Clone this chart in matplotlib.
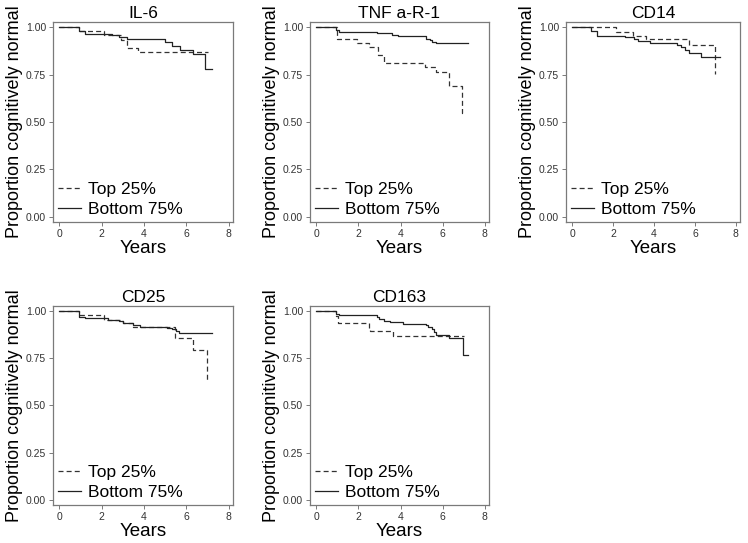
import matplotlib.pyplot as plt

plt.rcParams['font.family'] = ['Liberation Sans', 'DejaVu Sans']

titles = ["IL-6", "TNF a-R-1", "CD14", "CD25", "CD163"]

# step curves: (times, proportions) for Top 25% (dashed) and Bottom 75% (solid)
il6_top_t = [0, 0.95, 2.1, 2.9, 3.2, 3.7, 7.0]
il6_top_s = [1.0, 0.977, 0.956, 0.93, 0.889, 0.868, 0.868]
il6_bot_t = [0, 0.95, 1.2, 2.5, 2.8, 3.2, 3.6, 4.9, 5.0, 5.3, 5.7, 6.3, 6.9, 7.2]
il6_bot_s = [1.0, 0.98, 0.965, 0.96, 0.95, 0.94, 0.937, 0.937, 0.92, 0.903, 0.88, 0.857, 0.778, 0.778]

tnf_top_t = [0, 0.97, 1.95, 2.48, 2.92, 3.2, 5.18, 5.69, 6.32, 6.91, 7.02]
tnf_top_s = [1.0, 0.937, 0.915, 0.893, 0.854, 0.813, 0.789, 0.766, 0.69, 0.549, 0.549]
tnf_bot_t = [0, 0.95, 1.1, 2.9, 3.6, 3.9, 5.2, 5.4, 5.5, 5.7, 7.2]
tnf_bot_s = [1.0, 0.985, 0.975, 0.97, 0.961, 0.953, 0.94, 0.93, 0.922, 0.915, 0.915]

cd14_top_t = [0, 2.12, 2.98, 3.6, 5.71, 6.96, 7.0]
cd14_top_s = [1.0, 0.975, 0.955, 0.935, 0.905, 0.754, 0.754]
cd14_bot_t = [0, 0.94, 1.2, 2.6, 3.0, 3.2, 3.8, 5.1, 5.3, 5.5, 5.7, 6.3, 7.2]
cd14_bot_s = [1.0, 0.98, 0.955, 0.947, 0.935, 0.926, 0.915, 0.905, 0.895, 0.88, 0.866, 0.842, 0.842]

cd25_top_t = [0, 0.95, 2.13, 2.9, 3.0, 3.5, 5.46, 6.33, 6.96, 7.05]
cd25_top_s = [1.0, 0.977, 0.955, 0.945, 0.935, 0.917, 0.857, 0.795, 0.636, 0.636]
cd25_bot_t = [0, 0.95, 1.2, 2.3, 2.8, 3.0, 3.5, 3.8, 5.1, 5.3, 5.5, 5.65, 7.2]
cd25_bot_s = [1.0, 0.97, 0.963, 0.955, 0.945, 0.935, 0.925, 0.918, 0.912, 0.905, 0.895, 0.883, 0.883]

cd163_top_t = [0, 0.94, 1.05, 2.48, 2.55, 3.62, 7.0]
cd163_top_s = [1.0, 0.975, 0.936, 0.905, 0.892, 0.869, 0.869]
cd163_bot_t = [0, 0.95, 1.1, 2.9, 3.0, 3.2, 3.5, 4.1, 5.2, 5.3, 5.5, 5.6, 5.7, 6.3, 6.95, 7.2]
cd163_bot_s = [1.0, 0.985, 0.977, 0.97, 0.96, 0.945, 0.94, 0.93, 0.925, 0.915, 0.905, 0.89, 0.876, 0.855, 0.77, 0.77]

curves = [
    (il6_top_t, il6_top_s, il6_bot_t, il6_bot_s),
    (tnf_top_t, tnf_top_s, tnf_bot_t, tnf_bot_s),
    (cd14_top_t, cd14_top_s, cd14_bot_t, cd14_bot_s),
    (cd25_top_t, cd25_top_s, cd25_bot_t, cd25_bot_s),
    (cd163_top_t, cd163_top_s, cd163_bot_t, cd163_bot_s),
]

W, H = 748, 543
fig = plt.figure(figsize=(W / 100, H / 100), dpi=100)

# axes boxes in pixels: left, top, right, bottom
boxes = [(53, 22, 233, 222), (310, 22, 489, 222), (566, 22, 740, 222),
         (53, 306, 233, 505), (310, 306, 489, 505)]

frame_col = '#7a7a7a'
for title, (tt, ts, bt, bs), (l, t, r, b) in zip(titles, curves, boxes):
    ax = fig.add_axes([l / W, 1 - b / H, (r - l) / W, (b - t) / H])
    ax.step(tt, ts, where='post', color='#333333', lw=0.9, ls=(0, (4, 2.5)), label='Top 25%')
    ax.step(bt, bs, where='post', color='#222222', lw=0.9, label='Bottom 75%')
    ax.set_xlim(-0.3, 8.2)
    ax.set_ylim(-0.027, 1.027)
    ax.set_xticks([0, 2, 4, 6, 8])
    ax.set_yticks([0, 0.25, 0.5, 0.75, 1.0])
    ax.set_yticklabels(['0.00', '0.25', '0.50', '0.75', '1.00'])
    ax.tick_params(labelsize=7.5, length=3, width=0.7, color=frame_col, labelcolor='#333333', pad=2)
    for sp in ax.spines.values():
        sp.set_color(frame_col)
        sp.set_linewidth(0.9)
    ax.set_title(title, fontsize=12.5, pad=3)
    ax.set_xlabel('Years', fontsize=13.5, labelpad=1)
    ax.set_ylabel('Proportion cognitively normal', fontsize=13, labelpad=2)
    ax.legend(loc='lower left', frameon=False, fontsize=12.5, handlelength=1.3,
              handletextpad=0.4, labelspacing=0.25, borderaxespad=0.1, borderpad=0.2)

fig.savefig('out.png', dpi=100)
